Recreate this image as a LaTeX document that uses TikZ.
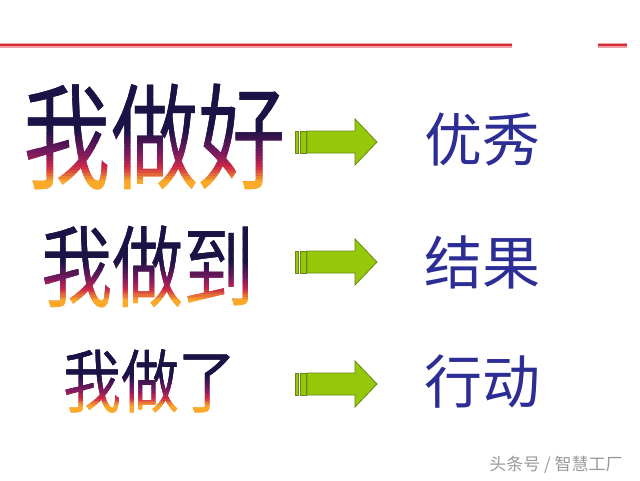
\documentclass[tikz,border=0pt]{standalone}
\usepackage{fontspec}
\usepackage{graphicx}
\newfontfamily\cjk{Noto Sans CJK SC}

\definecolor{waorange}{RGB}{250,170,40}
\definecolor{wared}{RGB}{205,40,70}
\definecolor{wapurple}{RGB}{120,25,95}
\definecolor{wanavy}{RGB}{28,18,70}
\definecolor{textblue}{RGB}{45,45,150}
\definecolor{arrowgreen}{RGB}{150,200,10}
\definecolor{arrowline}{RGB}{105,135,20}
\definecolor{rulered}{RGB}{210,45,55}
\definecolor{rulepink}{RGB}{240,160,165}

% colour of the word art at height t (0 = top of glyphs, 1 = bottom)
\newcommand{\setwacolor}[1]{%
    \pgfmathsetmacro{\wat}{#1}%
    \ifdim\wat pt<0.45pt \colorlet{wacur}{wanavy}%
    \else\ifdim\wat pt<0.66pt
        \pgfmathsetmacro{\wap}{int(100*(0.66-\wat)/0.21)}\colorlet{wacur}{wanavy!\wap!wapurple}%
    \else\ifdim\wat pt<0.80pt
        \pgfmathsetmacro{\wap}{int(100*(0.80-\wat)/0.14)}\colorlet{wacur}{wapurple!\wap!wared}%
    \else\ifdim\wat pt<0.93pt
        \pgfmathsetmacro{\wap}{int(100*(0.93-\wat)/0.13)}\colorlet{wacur}{wared!\wap!waorange}%
    \else \colorlet{wacur}{waorange}%
    \fi\fi\fi\fi}

\tikzset{
    wordart/.style={font=\cjk\fontsize{#1}{#1}\selectfont, inner sep=0pt},
    result/.style={font=\cjk\fontsize{58}{58}\selectfont, text=textblue, inner sep=0pt},
    arrowbody/.style={fill=arrowgreen, draw=arrowline, line width=0.8pt},
}

% word art row: name, size, x, y, glyph top, glyph bottom, text
\newcommand{\wordrow}[7]{%
    \foreach \k in {0,...,39} {
        \pgfmathsetmacro{\ya}{#5-4+(#6-#5+8)*\k/40}
        \pgfmathsetmacro{\yb}{#5-4+(#6-#5+8)*(\k+1)/40}
        \setwacolor{((\ya+\yb)/2-#5)/(#6-#5)}
        \begin{scope}
            \clip (0,\ya-0.8) rectangle (290,\yb+0.8);
            \node[wordart=#2, text=wacur] (#1-\k) at (#3,#4) {#7};
        \end{scope}
    }}

\begin{document}
\begin{tikzpicture}[x=1pt, y=-1pt]
    \useasboundingbox[fill=white] (0,0) rectangle (640,480);

    % Top rule
    \draw[rulepink, line width=5pt] (0,45) -- (512,45);
    \draw[rulered, line width=1.6pt] (0,45) -- (512,45);
    \draw[rulepink, line width=5pt] (598,45) -- (627,45);
    \draw[rulered, line width=1.6pt] (598,45) -- (627,45);

    % Left words
    \wordrow{do1}{115}{155}{137}{85}{190}{\scalebox{0.76}[1]{我做好}}
    \wordrow{do2}{89}{148}{267}{227}{307}{\scalebox{0.80}[1]{我做到}}
    \wordrow{do3}{69}{150}{381}{350}{412}{\scalebox{0.84}[1]{我做了}}

    % Arrows
    \foreach \y in {142,262,384} {
        \draw[arrowbody] (295,\y-11) rectangle (298,\y+11);
        \draw[arrowbody] (300,\y-11) rectangle (306,\y+11);
        \draw[arrowbody] (307,\y-11) -- (355,\y-11) -- (355,\y-23) -- (377,\y)
            -- (355,\y+23) -- (355,\y+11) -- (307,\y+11) -- cycle;
    }

    % Right words
    \node[result] (res1) at (482,140) {优秀};
    \node[result] (res2) at (482,262) {结果};
    \node[result] (res3) at (482,382) {行动};

    % Watermark
    \node[font=\cjk\fontsize{17}{17}\selectfont, text=black!40, inner sep=0pt] (mark) at (556,465) {头条号 / 智慧工厂};
\end{tikzpicture}
\end{document}
